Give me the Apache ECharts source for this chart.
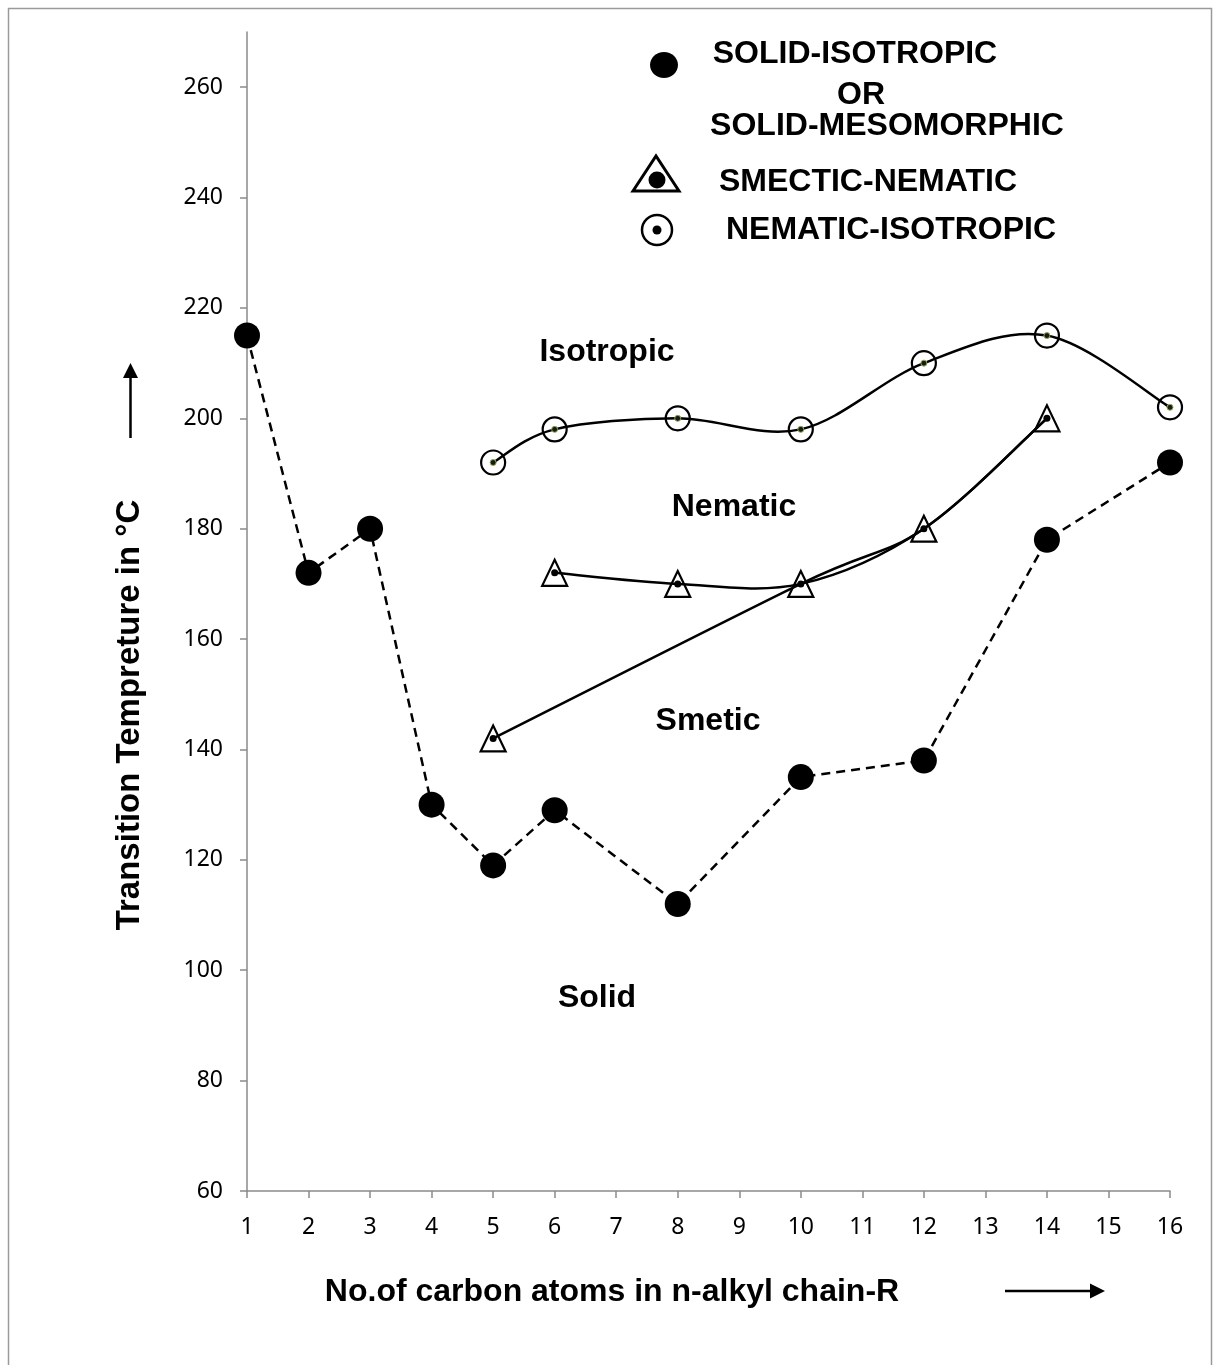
<!DOCTYPE html>
<html>
<head>
<meta charset="utf-8">
<script src="https://cdn.jsdelivr.net/npm/echarts@6/dist/echarts.min.js"></script>
<style>
html,body{margin:0;padding:0;background:#fff;}
#chart{width:1213px;height:1365px;}
</style>
</head>
<body>
<div id="chart"></div>
<script>
// ---- data ----
const solidCarbons = [1, 2, 3, 4, 5, 6, 8, 10, 12, 14, 16];
const solidTemps   = [215, 172, 180, 130, 119, 129, 112, 135, 138, 178, 192];

const niCarbons = [5, 6, 8, 10, 12, 14, 16];
const niTemps   = [192, 198, 200, 198, 210, 215, 202];

const snCarbons = [5, 6, 8, 10, 12, 14];
const snTemps   = [142, 172, 170, 170, 180, 200];
// which smectic-nematic points each drawn curve passes through
const snCurveA = [6, 8, 10, 12, 14];
const snCurveB = [5, 10, 12, 14];

const xTicks = [1, 2, 3, 4, 5, 6, 7, 8, 9, 10, 11, 12, 13, 14, 15, 16];
const yTicks = [60, 80, 100, 120, 140, 160, 180, 200, 220, 240, 260];

const regionLabels = ['Isotropic', 'Nematic', 'Smetic', 'Solid'];
const legendLabels = ['SOLID-ISOTROPIC', 'OR', 'SOLID-MESOMORPHIC', 'SMECTIC-NEMATIC', 'NEMATIC-ISOTROPIC'];
const xTitle = 'No.of carbon atoms in n-alkyl chain-R';
const yTitle = 'Transition Tempreture in \u00B0C';

// ---- helpers ----
const pairs = (xs, ys) => xs.map((x, i) => [x, ys[i]]);
const snPick = list => list.map(c => [c, snTemps[snCarbons.indexOf(c)]]);

// smooth curve (spreadsheet-style Bezier) through data points mapped by the axes
function smoothCurveSeries(name, pts) {
  return {
    name: name, type: 'custom', z: 3, silent: true,
    data: [pts[0]],
    renderItem: function (params, api) {
      const p = pts.map(v => api.coord(v));
      let d = 'M' + p[0][0] + ' ' + p[0][1];
      for (let i = 0; i < p.length - 1; i++) {
        const p0 = p[i - 1] || p[i], p1 = p[i], p2 = p[i + 1], p3 = p[i + 2] || p[i + 1];
        const c1 = [p1[0] + (p2[0] - p0[0]) / 6, p1[1] + (p2[1] - p0[1]) / 6];
        const c2 = [p2[0] - (p3[0] - p1[0]) / 6, p2[1] - (p3[1] - p1[1]) / 6];
        d += ' C' + c1[0] + ' ' + c1[1] + ' ' + c2[0] + ' ' + c2[1] + ' ' + p2[0] + ' ' + p2[1];
      }
      return {type: 'path', shape: {pathData: d},
              style: {fill: 'none', stroke: '#000', lineWidth: 2.5}};
    }
  };
}

const bold = '"Liberation Sans", Arial, sans-serif';
const BF = 32;

const chart = echarts.init(document.getElementById('chart'), null, {renderer: 'canvas'});

const axisGray = '#8a8a8a';

function txt(text, x, y, size, rot) {
  return {
    type: 'text', x: x, y: y, rotation: rot || 0, z: 100,
    style: {text: text, font: 'bold ' + size + 'px ' + bold, fill: '#000',
            textAlign: 'center', textVerticalAlign: 'middle'}
  };
}

const graphics = [
  // outer frame
  {type: 'rect', shape: {x: 8.5, y: 8.5, width: 1203, height: 1400}, style: {fill: 'none', stroke: '#9a9a9a', lineWidth: 1.5}, silent: true, z: 0},
  // region annotations
  txt(regionLabels[0], 607, 352, BF),
  txt(regionLabels[1], 734, 507, BF),
  txt(regionLabels[2], 708, 721, BF),
  txt(regionLabels[3], 597, 998, BF),
  // legend
  {type: 'ellipse', shape: {cx: 664, cy: 65, rx: 14, ry: 13}, style: {fill: '#000'}, z: 100},
  txt(legendLabels[0], 855, 54, BF),
  txt(legendLabels[1], 861, 95, BF),
  txt(legendLabels[2], 887, 126, BF),
  {type: 'polygon', shape: {points: [[633, 191], [656, 156], [679, 191]]}, style: {fill: 'none', stroke: '#000', lineWidth: 3}, z: 100},
  {type: 'circle', shape: {cx: 657, cy: 180, r: 8.5}, style: {fill: '#000'}, z: 100},
  txt(legendLabels[3], 868, 182, BF),
  {type: 'circle', shape: {cx: 657, cy: 230, r: 15}, style: {fill: 'none', stroke: '#000', lineWidth: 2.5}, z: 100},
  {type: 'circle', shape: {cx: 657, cy: 230, r: 4.5}, style: {fill: '#000'}, z: 100},
  txt(legendLabels[4], 891, 230, BF),
  // axis titles
  txt(yTitle, 130, 715, 33, Math.PI / 2),
  txt(xTitle, 612, 1292, BF),
  // arrows
  {type: 'line', shape: {x1: 130.5, y1: 438, x2: 130.5, y2: 374}, style: {stroke: '#000', lineWidth: 2.5}, z: 100},
  {type: 'polygon', shape: {points: [[123, 378], [130.5, 363], [138, 378]]}, style: {fill: '#000'}, z: 100},
  {type: 'line', shape: {x1: 1005, y1: 1291, x2: 1094, y2: 1291}, style: {stroke: '#000', lineWidth: 2.5}, z: 100},
  {type: 'polygon', shape: {points: [[1090, 1283.5], [1105, 1291], [1090, 1298.5]]}, style: {fill: '#000'}, z: 100}
];

const option = {
  animation: false,
  backgroundColor: '#fff',
  grid: {left: 247, right: 43, top: 32, bottom: 174},
  xAxis: {
    type: 'value', min: 1, max: 16, interval: 1,
    splitLine: {show: false},
    axisLine: {show: true, lineStyle: {color: axisGray, width: 1.5}},
    axisTick: {show: true, inside: false, length: 7, lineStyle: {color: axisGray, width: 1.5}},
    axisLabel: {margin: 25, color: '#000', fontSize: 23, fontFamily: '"Noto Sans", sans-serif', customValues: xTicks}
  },
  yAxis: {
    type: 'value', min: 60, max: 270, interval: 20,
    splitLine: {show: false},
    axisLine: {show: true, lineStyle: {color: axisGray, width: 1.5}},
    axisTick: {show: true, inside: false, length: 7, lineStyle: {color: axisGray, width: 1.5}, customValues: yTicks},
    axisLabel: {margin: 24, color: '#000', fontSize: 23, fontFamily: '"Noto Sans", sans-serif', customValues: yTicks}
  },
  series: [
    {
      name: 'SOLID-ISOTROPIC OR SOLID-MESOMORPHIC', type: 'line',
      data: pairs(solidCarbons, solidTemps),
      symbol: 'circle', symbolSize: 26,
      itemStyle: {color: '#000', opacity: 1},
      lineStyle: {color: '#000', width: 2.5, type: [9, 6]},
      z: 3
    },
    smoothCurveSeries('NEMATIC-ISOTROPIC curve', pairs(niCarbons, niTemps)),
    smoothCurveSeries('SMECTIC-NEMATIC curve A', snPick(snCurveA)),
    smoothCurveSeries('SMECTIC-NEMATIC curve B', snPick(snCurveB)),
    {
      name: 'NEMATIC-ISOTROPIC', type: 'scatter',
      data: pairs(niCarbons, niTemps),
      symbol: 'circle', symbolSize: 24,
      itemStyle: {color: 'rgba(0,0,0,0)', borderColor: '#000', borderWidth: 2.2, opacity: 1},
      z: 4
    },
    {
      name: 'NI centres', type: 'scatter',
      data: pairs(niCarbons, niTemps),
      symbol: 'circle', symbolSize: 6,
      itemStyle: {color: '#1a1a1a', borderColor: '#8fae50', borderWidth: 1, opacity: 1},
      z: 5
    },
    {
      name: 'SMECTIC-NEMATIC', type: 'scatter',
      data: pairs(snCarbons, snTemps),
      symbol: 'triangle', symbolSize: [25, 26],
      itemStyle: {color: 'rgba(0,0,0,0)', borderColor: '#000', borderWidth: 2.2, opacity: 1},
      z: 4
    },
    {
      name: 'SN centres', type: 'scatter',
      data: pairs(snCarbons, snTemps),
      symbol: 'circle', symbolSize: 7,
      itemStyle: {color: '#000', opacity: 1},
      z: 5
    }
  ],
  graphic: graphics
};

chart.setOption(option);
</script>
</body>
</html>
